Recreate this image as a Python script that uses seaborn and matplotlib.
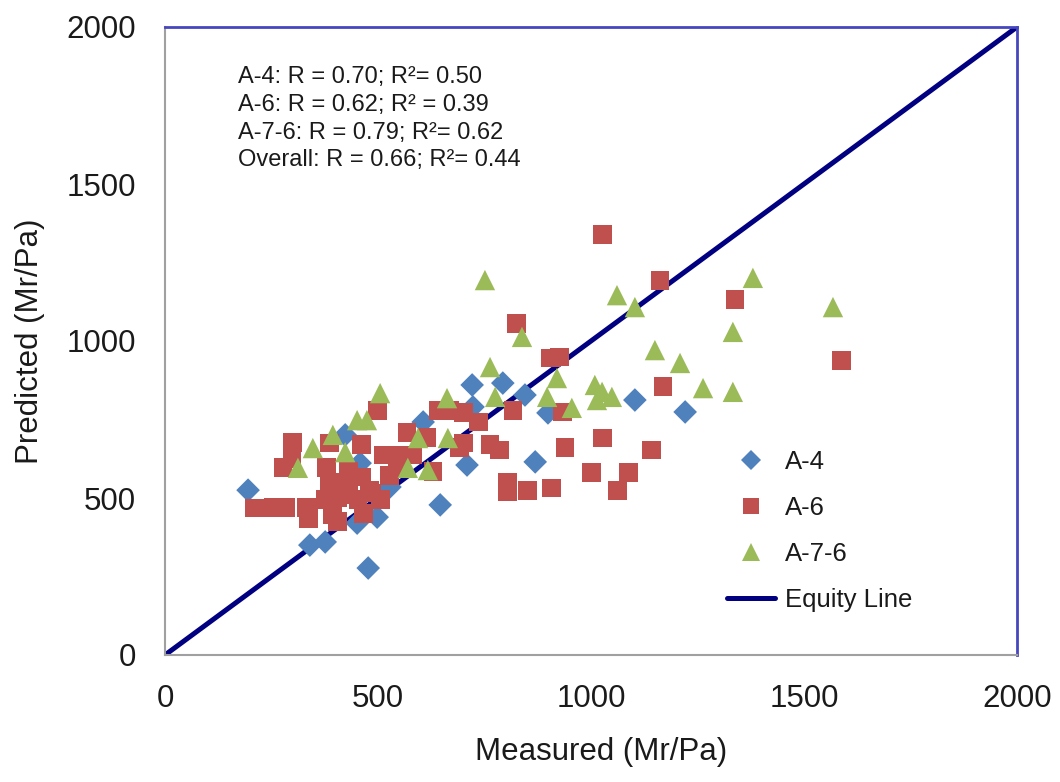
import matplotlib
matplotlib.use("Agg")
import matplotlib.pyplot as plt
from matplotlib.lines import Line2D
import seaborn as sns
import pandas as pd

# ---------------- data ----------------
a4_measured = [195, 340, 376, 423, 458, 498, 477, 528, 606, 709, 646, 721, 723, 793, 845,
               869, 899, 1103, 1221, 451]
a4_predicted = [525, 350, 360, 701, 611, 439, 277, 535, 742, 605, 478, 860, 790, 866, 828,
                615, 771, 812, 774, 420]

a6_measured = [300, 298, 277, 387, 380, 211, 254, 282, 333, 376, 404, 430, 336, 394, 430,
               418, 387, 462, 486, 465, 404, 498, 641, 669, 700, 568, 615, 512, 540, 582,
               692, 629, 462, 481, 453, 505, 545, 528, 817, 934, 735, 763, 786, 939, 805,
               803, 850, 908, 700, 904, 927, 1026, 1143, 1002, 1087, 1063, 1169, 1028, 1162,
               1338, 826, 1589]
a6_predicted = [678, 627, 596, 675, 596, 468, 471, 471, 471, 494, 503, 510, 436, 446, 583,
                548, 548, 669, 516, 452, 424, 780, 780, 780, 771, 710, 694, 637, 637, 637,
                662, 583, 567, 525, 494, 494, 596, 573, 780, 774, 742, 669, 653, 662, 551,
                519, 525, 532, 675, 946, 949, 691, 653, 580, 580, 525, 854, 1338, 1194,
                1131, 1057, 939]

a76_measured = [312, 347, 394, 423, 451, 474, 505, 594, 664, 570, 617, 662, 763, 775, 897,
                920, 838, 955, 1009, 1026, 1049, 1014, 1150, 1209, 1263, 1333, 1333, 751,
                1061, 1103, 1380, 1568]
a76_predicted = [596, 659, 701, 646, 748, 748, 834, 691, 691, 596, 589, 818, 917, 822, 822,
                 882, 1013, 787, 860, 838, 822, 812, 971, 930, 850, 838, 1029, 1194,
                 1146, 1108, 1201, 1108]

equity_x = [0, 2000]
equity_y = [0, 2000]

groups = ["A-4", "A-6", "A-7-6"]
stats_lines = [
    "A-4: R = 0.70; R\u00b2= 0.50",
    "A-6: R = 0.62; R\u00b2 = 0.39",
    "A-7-6: R = 0.79; R\u00b2= 0.62",
    "Overall: R = 0.66; R\u00b2= 0.44",
]
x_ticks = [0, 500, 1000, 1500, 2000]
y_ticks = [0, 500, 1000, 1500, 2000]

# ---------------- style ----------------
sns.set_style("white")
plt.rcParams["font.family"] = ["Liberation Sans", "DejaVu Sans"]

colors = {"A-4": "#4F81BD", "A-6": "#C0504D", "A-7-6": "#9BBB59"}
markers = {"A-4": "D", "A-6": "s", "A-7-6": "^"}
sizes = {"A-4": 145, "A-6": 185, "A-7-6": 215}

df = pd.concat([
    pd.DataFrame({"Measured": a4_measured, "Predicted": a4_predicted, "Soil": "A-4"}),
    pd.DataFrame({"Measured": a6_measured, "Predicted": a6_predicted, "Soil": "A-6"}),
    pd.DataFrame({"Measured": a76_measured, "Predicted": a76_predicted, "Soil": "A-7-6"}),
], ignore_index=True)

fig = plt.figure(figsize=(10.6, 7.82), dpi=100)
ax = fig.add_axes([165 / 1060, 127 / 782, 852 / 1060, 628 / 782])

sns.lineplot(x=equity_x, y=equity_y, ax=ax, color="#000080", linewidth=3.6, zorder=1)
sns.scatterplot(data=df, x="Measured", y="Predicted", hue="Soil", style="Soil",
                size="Soil", sizes=sizes, markers=markers, palette=colors,
                hue_order=groups, style_order=groups, size_order=groups,
                linewidth=0, alpha=1, ax=ax, legend=False, zorder=2)

ax.set_xlim(0, 2000)
ax.set_ylim(0, 2000)
ax.set_xticks(x_ticks)
ax.set_yticks(y_ticks)
ax.tick_params(length=0, pad=21, labelsize=22.5, colors="#1a1a1a")

ax.set_xlabel("Measured (Mr/Pa)", fontsize=22.5, va="center", color="#1a1a1a")
ax.set_ylabel("Predicted (Mr/Pa)", fontsize=22.5, va="center", color="#1a1a1a")
ax.xaxis.set_label_coords((601 - 165) / 852, (655 - 752) / 628)
ax.yaxis.set_label_coords((30 - 165) / 852, 0.5)

for side in ["left", "bottom"]:
    ax.spines[side].set_color("#A0A0A0")
    ax.spines[side].set_linewidth(1.5)
for side in ["top", "right"]:
    ax.spines[side].set_color("#4646BE")
    ax.spines[side].set_linewidth(2)

# statistics text
line_y = [77, 105, 133, 160]
for txt, py in zip(stats_lines, line_y):
    fig.text(238 / 1060, 1 - py / 782, txt, fontsize=17, va="center", ha="left",
             color="#1a1a1a")

# legend
handles = [
    Line2D([], [], linestyle="none", marker="D", markersize=10, color=colors["A-4"],
           markeredgewidth=0),
    Line2D([], [], linestyle="none", marker="s", markersize=11.5, color=colors["A-6"],
           markeredgewidth=0),
    Line2D([], [], linestyle="none", marker="^", markersize=12.5, color=colors["A-7-6"],
           markeredgewidth=0),
    Line2D([], [], color="#000080", linewidth=3.6),
]
labels = ["A-4", "A-6", "A-7-6", "Equity Line"]
leg = ax.legend(handles, labels, loc="upper left",
                bbox_to_anchor=(727 / 1060, 1 - 450 / 782),
                bbox_transform=fig.transFigure, frameon=False, fontsize=18.5,
                handlelength=1.85, handletextpad=0.4, labelspacing=0.85,
                borderpad=0, borderaxespad=0)
for t in leg.get_texts():
    t.set_color("#1a1a1a")

fig.savefig("out.png", dpi=100)
